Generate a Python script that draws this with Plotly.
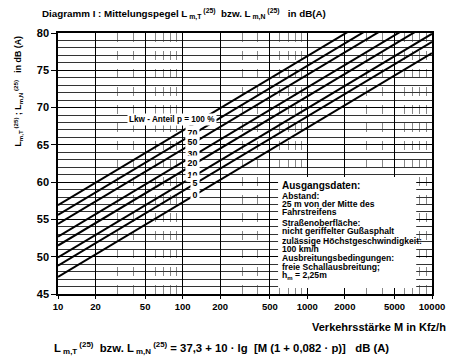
import plotly.graph_objects as go
import math

# ---- data ----
lkw_share = [0, 5, 10, 20, 30, 50, 70, 100]            # p in %
level_at_10 = [47.3, 48.8, 49.9, 51.5, 52.7, 54.4, 55.6, 56.9]      # dB(A) at M = 10
level_at_10000 = [77.3, 78.8, 79.9, 81.5, 82.7, 84.4, 85.6, 86.9]   # dB(A) at M = 10000
traffic_ends = [10, 10000]

x_tick_vals = [10, 20, 50, 100, 200, 500, 1000, 2000, 5000, 10000]
x_tick_text = ["10", "20", "50", "100", "200", "500", "1000", "2000", "5000", "10000"]
x_minor_vals = [30, 40, 60, 70, 80, 90, 300, 400, 600, 700, 800, 900,
                3000, 4000, 6000, 7000, 8000, 9000]
y_tick_vals = [45, 50, 55, 60, 65, 70, 75, 80]

label_texts = ["70", "50", "30", "20", "10", "5", "0"]
label_levels = [66.7, 65.5, 63.9, 62.6, 61.0, 59.9, 58.4]

info_lines = [
    ("Ausgangsdaten:", 10, 185),
    ("Abstand:", 8.6, 196),
    ("25 m von der Mitte des", 8.6, 204),
    ("Fahrstreifens", 8.6, 212),
    ("Straßenoberfläche:", 8.6, 223),
    ("nicht geriffelter Gußasphalt", 8.6, 231),
    ("zulässige Höchstgeschwindigkeit:", 8.6, 241),
    ("100 km/h", 8.6, 249),
    ("Ausbreitungsbedingungen:", 8.6, 258),
    ("freie Schallausbreitung;", 8.6, 267),
    ("h<sub>m</sub> = 2,25m", 8.6, 275),
]

# ---- layout helpers (pixel -> paper) ----
L, R, T, B = 58, 437, 33, 294
def px(xp):
    return (xp - L) / (R - L)
def py(yp):
    return (B - yp) / (B - T)

SANS = "Liberation Sans, Arial, Helvetica"

fig = go.Figure()
for p, a, b in zip(lkw_share, level_at_10, level_at_10000):
    fig.add_trace(go.Scatter(x=traffic_ends, y=[a, b], mode="lines",
                             line=dict(color="black", width=2),
                             name=f"p = {p} %", showlegend=False,
                             hoverinfo="skip"))

annotations = []
annotations.append(dict(
    text="<b>Diagramm I : Mittelungspegel L<sub> m,T</sub><sup> (25)</sup>  bzw. L<sub> m,N</sub><sup> (25)</sup>   in dB(A)</b>",
    xref="paper", yref="paper", x=px(40), y=py(14), xanchor="left", yanchor="middle",
    showarrow=False, font=dict(family=SANS, size=9.8, color="black")))
annotations.append(dict(
    text="<b>L<sub>m,T</sub><sup> (25)</sup> ; L<sub>m,N</sub><sup> (25)</sup>   in dB (A)</b>",
    xref="paper", yref="paper", x=px(17), y=py(91), xanchor="center", yanchor="middle",
    textangle=-90, showarrow=False, font=dict(family=SANS, size=8.8, color="black")))
annotations.append(dict(
    text="<b>Verkehrsstärke M in Kfz/h</b>",
    xref="paper", yref="paper", x=px(453), y=py(327), xanchor="right", yanchor="middle",
    showarrow=False, font=dict(family=SANS, size=11, color="black")))
annotations.append(dict(
    text="<b>L<sub> m,T</sub><sup> (25)</sup>  bzw. L<sub> m,N</sub><sup> (25)</sup> = 37,3 + 10 · lg  [M (1 + 0,082 · p)]   dB (A)</b>",
    xref="paper", yref="paper", x=px(52), y=py(348), xanchor="left", yanchor="middle",
    showarrow=False, font=dict(family=SANS, size=11.3, color="black")))
for t, lv in zip(label_texts, label_levels):
    annotations.append(dict(
        text=f"<b>{t}</b>", xref="x", yref="y", x=math.log10(138), y=lv,
        xanchor="right", yanchor="middle", showarrow=False,
        bgcolor="white", borderpad=1.5,
        font=dict(family=SANS, size=8.8, color="black")))
annotations.append(dict(
    text="<b>Lkw - Anteil p = 100 %</b>",
    xref="paper", yref="paper", x=px(128), y=py(119), xanchor="left", yanchor="middle",
    showarrow=False, bgcolor="white", borderpad=1,
    font=dict(family=SANS, size=8.2, color="black")))
for t, s, yp in info_lines:
    annotations.append(dict(
        text=f"<b>{t}</b>", xref="paper", yref="paper", x=px(283), y=py(yp),
        xanchor="left", yanchor="middle", showarrow=False,
        font=dict(family=SANS, size=s, color="black")))

fig.update_layout(
    width=457, height=357,
    margin=dict(l=L, r=457 - R, t=T, b=357 - B),
    paper_bgcolor="white", plot_bgcolor="white",
    showlegend=False,
    annotations=annotations,
    shapes=[dict(type="rect", xref="paper", yref="paper",
                 x0=px(281), x1=px(421), y0=py(288), y1=py(177),
                 fillcolor="white", line=dict(width=0), layer="above")],
)
fig.update_xaxes(
    type="log", range=[1, 4],
    tickmode="array", tickvals=x_tick_vals, ticktext=x_tick_text,
    ticks="outside", ticklen=3, tickcolor="black",
    tickfont=dict(family=SANS, size=9.5, color="black", weight="bold"),
    showgrid=True, gridcolor="black", gridwidth=1.2,
    showline=True, linecolor="black", linewidth=1.5, mirror=True,
    zeroline=False,
    minor=dict(tickvals=x_minor_vals, showgrid=True, gridcolor="#888",
               gridwidth=1, griddash="dash", ticks=""),
)
fig.update_yaxes(
    range=[45, 80], tickmode="array", tickvals=y_tick_vals,
    ticks="outside", ticklen=5, tickcolor="black",
    tickfont=dict(family=SANS, size=11, color="black", weight="bold"),
    showgrid=True, gridcolor="black", gridwidth=1,
    showline=True, linecolor="black", linewidth=1.5, mirror=True,
    zeroline=False,
    minor=dict(dtick=1, showgrid=True, gridcolor="#333", gridwidth=0.8, ticks=""),
)

fig.write_html("out.html", config={"displayModeBar": False},
               post_script="document.body.style.margin='0px'; document.body.style.overflow='hidden';")
